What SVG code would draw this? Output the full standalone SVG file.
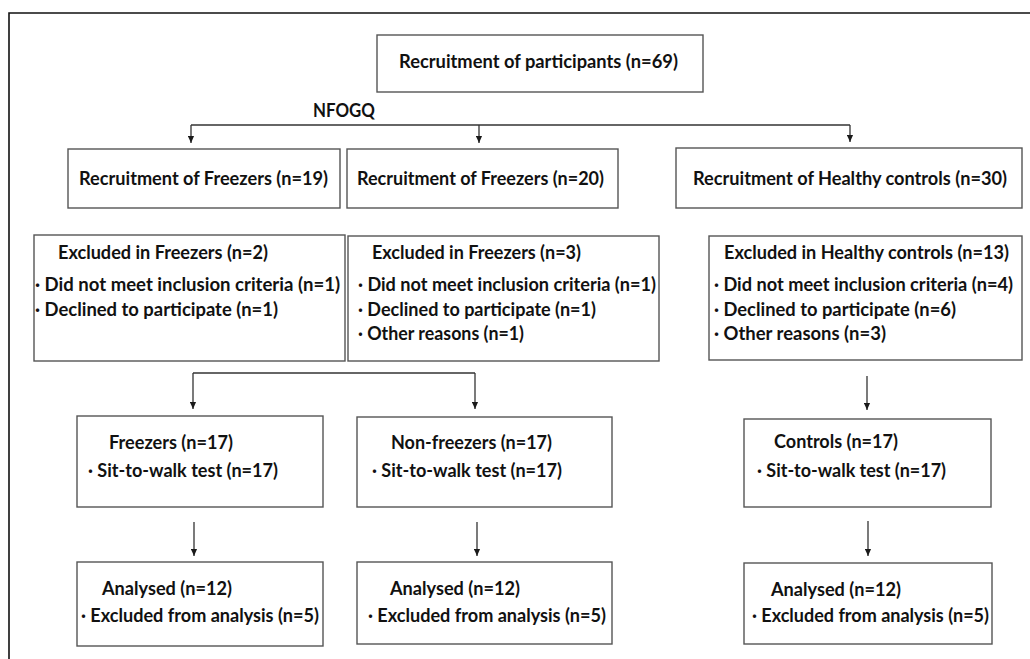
<svg xmlns="http://www.w3.org/2000/svg" width="1030" height="659" viewBox="0 0 1030 659">
<style>
  .box { fill: #ffffff; stroke: #555555; stroke-width: 1.4; }
  .t { font-family: "Lato", "Liberation Sans", sans-serif; font-weight: 700; font-size: 18px; fill: #111111; }
  .c { fill: none; stroke: #333333; stroke-width: 1.3; }
  .frame { fill: none; stroke: #111111; stroke-width: 1.6; }
</style>
<defs>
  <marker id="ah" viewBox="0 0 8 8" refX="8" refY="4" markerWidth="8" markerHeight="7" markerUnits="userSpaceOnUse" orient="auto">
    <path d="M0,0.5 L8,4 L0,7.5 z" fill="#1a1a1a"/>
  </marker>
</defs>
<rect width="1030" height="659" fill="#ffffff"/>
<path class="frame" d="M9,659 L9,13 L1030,13"/>

<g id="connectors">
  <path class="c" d="M191,125 L850,125"/>
  <path class="c" d="M191,125 L191,143" marker-end="url(#ah)"/>
  <path class="c" d="M479,125 L479,143" marker-end="url(#ah)"/>
  <path class="c" d="M850,125 L850,142" marker-end="url(#ah)"/>
  <path class="c" d="M193,373 L475,373"/>
  <path class="c" d="M193,373 L193,409" marker-end="url(#ah)"/>
  <path class="c" d="M475,373 L475,409" marker-end="url(#ah)"/>
  <path class="c" d="M867,376 L867,410" marker-end="url(#ah)"/>
  <path class="c" d="M194,522 L194,556" marker-end="url(#ah)"/>
  <path class="c" d="M477,522 L477,556" marker-end="url(#ah)"/>
  <path class="c" d="M868,521 L868,556" marker-end="url(#ah)"/>
</g>
<text class="t" x="313" y="117" textLength="62" lengthAdjust="spacingAndGlyphs">NFOGQ</text>

<g id="recruitment">
  <rect class="box" x="377" y="35" width="326" height="57"/>
  <text class="t" x="399" y="68" textLength="279" lengthAdjust="spacingAndGlyphs">Recruitment of participants (n=69)</text>
</g>

<g id="recruit-freezers-19">
  <rect class="box" x="68" y="149" width="272" height="59"/>
  <text class="t" x="79" y="185" textLength="249" lengthAdjust="spacingAndGlyphs">Recruitment of Freezers (n=19)</text>
</g>
<g id="recruit-freezers-20">
  <rect class="box" x="347" y="149" width="271" height="59"/>
  <text class="t" x="357" y="185" textLength="247" lengthAdjust="spacingAndGlyphs">Recruitment of Freezers (n=20)</text>
</g>
<g id="recruit-controls">
  <rect class="box" x="676" y="148" width="346" height="60"/>
  <text class="t" x="693" y="185" textLength="314" lengthAdjust="spacingAndGlyphs">Recruitment of Healthy controls (n=30)</text>
</g>

<g id="excluded-freezers-2">
  <rect class="box" x="34" y="235" width="311" height="126"/>
  <text class="t" x="58" y="259" textLength="210" lengthAdjust="spacingAndGlyphs">Excluded in Freezers (n=2)</text>
  <text class="t" x="35" y="291" textLength="305" lengthAdjust="spacingAndGlyphs">· Did not meet inclusion criteria (n=1)</text>
  <text class="t" x="35" y="316" textLength="243" lengthAdjust="spacingAndGlyphs">· Declined to participate (n=1)</text>
</g>
<g id="excluded-freezers-3">
  <rect class="box" x="348" y="236" width="311" height="125"/>
  <text class="t" x="372" y="259" textLength="209" lengthAdjust="spacingAndGlyphs">Excluded in Freezers (n=3)</text>
  <text class="t" x="358" y="291" textLength="298" lengthAdjust="spacingAndGlyphs">· Did not meet inclusion criteria (n=1)</text>
  <text class="t" x="358" y="316" textLength="238" lengthAdjust="spacingAndGlyphs">· Declined to participate (n=1)</text>
  <text class="t" x="358" y="340" textLength="166" lengthAdjust="spacingAndGlyphs">· Other reasons (n=1)</text>
</g>
<g id="excluded-controls-13">
  <rect class="box" x="709" y="236" width="313" height="124"/>
  <text class="t" x="724" y="259" textLength="285" lengthAdjust="spacingAndGlyphs">Excluded in Healthy controls (n=13)</text>
  <text class="t" x="714" y="291" textLength="299" lengthAdjust="spacingAndGlyphs">· Did not meet inclusion criteria (n=4)</text>
  <text class="t" x="714" y="316" textLength="242" lengthAdjust="spacingAndGlyphs">· Declined to participate (n=6)</text>
  <text class="t" x="714" y="340" textLength="172" lengthAdjust="spacingAndGlyphs">· Other reasons (n=3)</text>
</g>

<g id="freezers-17">
  <rect class="box" x="77" y="416" width="246" height="91"/>
  <text class="t" x="109" y="449" textLength="124" lengthAdjust="spacingAndGlyphs">Freezers (n=17)</text>
  <text class="t" x="88" y="477" textLength="190" lengthAdjust="spacingAndGlyphs">· Sit-to-walk test (n=17)</text>
</g>
<g id="non-freezers-17">
  <rect class="box" x="357" y="417" width="255" height="90"/>
  <text class="t" x="391" y="449" textLength="161" lengthAdjust="spacingAndGlyphs">Non-freezers (n=17)</text>
  <text class="t" x="372" y="477" textLength="190" lengthAdjust="spacingAndGlyphs">· Sit-to-walk test (n=17)</text>
</g>
<g id="controls-17">
  <rect class="box" x="744" y="419" width="247" height="88"/>
  <text class="t" x="774" y="448" textLength="124" lengthAdjust="spacingAndGlyphs">Controls (n=17)</text>
  <text class="t" x="757" y="477" textLength="189" lengthAdjust="spacingAndGlyphs">· Sit-to-walk test (n=17)</text>
</g>

<g id="analysed-freezers">
  <rect class="box" x="77" y="562" width="246" height="84"/>
  <text class="t" x="102" y="595" textLength="130" lengthAdjust="spacingAndGlyphs">Analysed (n=12)</text>
  <text class="t" x="81" y="622" textLength="238" lengthAdjust="spacingAndGlyphs">· Excluded from analysis (n=5)</text>
</g>
<g id="analysed-non-freezers">
  <rect class="box" x="357" y="562" width="255" height="82"/>
  <text class="t" x="390" y="595" textLength="130" lengthAdjust="spacingAndGlyphs">Analysed (n=12)</text>
  <text class="t" x="368" y="622" textLength="238" lengthAdjust="spacingAndGlyphs">· Excluded from analysis (n=5)</text>
</g>
<g id="analysed-controls">
  <rect class="box" x="744" y="563" width="248" height="81"/>
  <text class="t" x="771" y="596" textLength="130" lengthAdjust="spacingAndGlyphs">Analysed (n=12)</text>
  <text class="t" x="752" y="622" textLength="237" lengthAdjust="spacingAndGlyphs">· Excluded from analysis (n=5)</text>
</g>
</svg>
